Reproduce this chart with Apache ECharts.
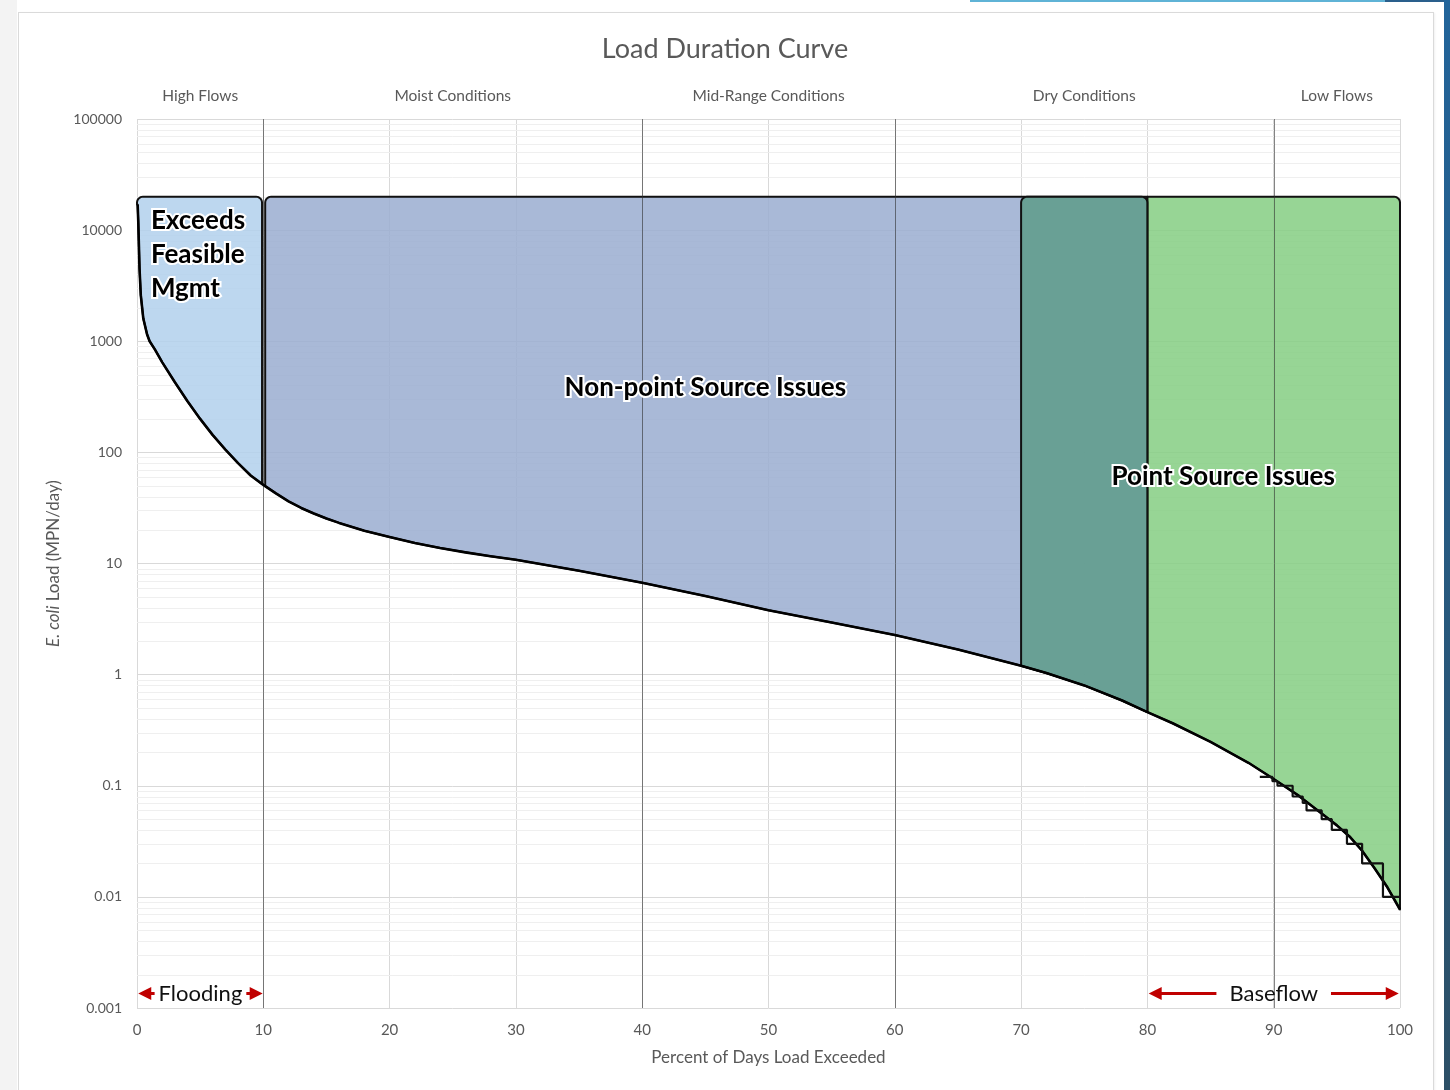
<!DOCTYPE html>
<html>
<head>
<meta charset="utf-8">
<title>Load Duration Curve</title>
<script src="https://cdn.jsdelivr.net/npm/echarts@6/dist/echarts.min.js"></script>
<style>
  html, body { margin: 0; padding: 0; background: #ffffff; }
  #page { position: relative; width: 1450px; height: 1090px; overflow: hidden; background: #ffffff; }
  #leftStrip { position: absolute; left: 0; top: 0; width: 17px; height: 1090px; background: #f3f3f3; }
  #panel { position: absolute; left: 18px; top: 12px; width: 1414px; height: 1090px; border: 1px solid #dadada; background: #ffffff; box-shadow: 1px 1px 2px rgba(0,0,0,0.06); }
  #topLine { position: absolute; left: 970px; top: 0; width: 420px; height: 2px; background: #5fb3d6; }
  #topLineDark { position: absolute; left: 1385px; top: 0; width: 65px; height: 2px; background: #2a5f8c; }
  #rightStrip { position: absolute; left: 1444px; top: 0; width: 6px; height: 1090px; background: linear-gradient(#22649a, #2c4f66); }
  #chart { position: absolute; left: 0; top: 0; width: 1450px; height: 1090px; }
</style>
</head>
<body>
<div id="page">
  <div id="leftStrip"></div>
  <div id="panel"></div>
  <div id="topLine"></div>
  <div id="topLineDark"></div>
  <div id="rightStrip"></div>
  <div id="chart"></div>
</div>
<script>
// Load duration curve: percent of days exceeded vs E. coli load (MPN/day)
const curveX = [0.05, 0.1, 0.2, 0.3, 0.5, 0.8, 1, 1.4, 2, 3, 4, 5, 6, 7, 8, 9, 10,
  11, 12, 13, 14, 15, 16, 18, 20, 22, 24, 26, 28, 30, 35, 40, 45, 50, 55, 60, 65, 70,
  72, 75, 78, 80, 82, 85, 88, 90, 92, 94, 95, 96, 97, 98, 99, 100];
const curveY = [17000, 12000, 4500, 2600, 1600, 1150, 1000, 850, 646, 427, 288, 200, 143, 106, 80, 62, 51,
  42.7, 36.3, 31.6, 28.2, 25.4, 23.2, 19.7, 17.3, 15.3, 13.8, 12.6, 11.6, 10.8, 8.6, 6.7, 5.1, 3.8, 2.95, 2.27, 1.68, 1.2,
  1.035, 0.8, 0.585, 0.46, 0.365, 0.248, 0.161, 0.115, 0.081, 0.054, 0.044, 0.035, 0.026, 0.018, 0.0122, 0.0077];

// Observed loads in the low-flow tail (reported to 0.01 MPN/day)
const tailX = [88.9, 89.9, 90.3, 91.5, 92.3, 92.6, 93.8, 94.6, 95.8, 97.0, 98.65, 100];
const tailY = [0.12, 0.11, 0.10, 0.08, 0.07, 0.06, 0.05, 0.04, 0.03, 0.02, 0.01, 0.01];

// Flow zones
const zoneNames = ['High Flows', 'Moist Conditions', 'Mid-Range Conditions', 'Dry Conditions', 'Low Flows'];
const zoneCenters = [5, 25, 50, 75, 95];
const zoneBounds = [10, 40, 60, 90];

// Management regions above the curve
const regionStart = [0, 10.15, 80, 70];
const regionEnd = [9.9, 80, 100, 80];
const regionRoundLeft = [true, true, false, true];
const regionRoundRight = [true, false, true, true];
const regionColors = ['rgba(178,208,236,0.86)', 'rgba(155,174,208,0.86)', 'rgba(134,206,131,0.86)', 'rgba(97,157,140,0.88)'];
const regionCeiling = 20000;

// Region captions
const captionText = ['Exceeds\nFeasible\nMgmt', 'Non-point Source Issues', 'Point Source Issues'];
const captionX = [1.1, 45, 86];
const captionY = [17500, 380, 61];
const captionAlign = ['left', 'center', 'center'];
const captionVAlign = ['top', 'middle', 'middle'];

// Range arrows along the bottom
const arrowText = ['Flooding', 'Baseflow'];
const arrowFrom = [0.1, 80.1];
const arrowTo = [9.95, 99.9];
const arrowLevel = 0.00135;

const FONT = 'Lato, "Open Sans", "Noto Sans", sans-serif';

const yMin = 0.001, yMax = 100000;
const minorValues = [];
for (let e = -3; e < 5; e++) {
  for (let m = 2; m <= 9; m++) minorValues.push(m * Math.pow(10, e));
}

function curveAt(x) {
  if (x <= curveX[0]) return curveY[0];
  for (let i = 1; i < curveX.length; i++) {
    if (x <= curveX[i]) {
      const t = (x - curveX[i - 1]) / (curveX[i] - curveX[i - 1]);
      const a = Math.log10(curveY[i - 1]), b = Math.log10(curveY[i]);
      return Math.pow(10, a + t * (b - a));
    }
  }
  return curveY[curveY.length - 1];
}

const measureCtx = document.createElement('canvas').getContext('2d');
function textWidth(str, font) { measureCtx.font = font; return measureCtx.measureText(str).width; }

const chart = echarts.init(document.getElementById('chart'), null, { renderer: 'canvas' });

const option = {
  animation: false,
  backgroundColor: 'transparent',
  title: {
    text: 'Load Duration Curve',
    left: 'center',
    top: 31,
    textStyle: { fontFamily: FONT, fontSize: 27, fontWeight: 'normal', color: '#595959' }
  },
  grid: { left: 137, right: 50, top: 119, bottom: 82, containLabel: false },
  xAxis: {
    type: 'value', min: 0, max: 100, interval: 10,
    axisLine: { show: false }, axisTick: { show: false },
    splitLine: { show: true, lineStyle: { color: '#d9d9d9', width: 1 } },
    axisLabel: { color: '#595959', fontSize: 15, fontFamily: FONT, margin: 15 },
    name: 'Percent of Days Load Exceeded', nameLocation: 'middle', nameGap: 41,
    nameTextStyle: { color: '#595959', fontSize: 17, fontFamily: FONT }
  },
  yAxis: {
    type: 'log', logBase: 10, min: yMin, max: yMax, splitNumber: 8,
    axisLine: { show: false }, axisTick: { show: false },
    splitLine: { show: true, lineStyle: { color: '#d9d9d9', width: 1 } },
    axisLabel: {
      color: '#595959', fontSize: 14, fontFamily: FONT, margin: 15,
      formatter: v => String(parseFloat(Number(v).toPrecision(6)))
    },
    name: '{i|E. coli} Load (MPN/day)', nameLocation: 'middle', nameRotate: 90, nameGap: 72,
    nameTextStyle: {
      color: '#595959', fontSize: 17, fontFamily: FONT,
      rich: { i: { fontStyle: 'italic', color: '#595959', fontSize: 17, fontFamily: FONT } }
    }
  },
  series: [
    {
      // minor log gridlines
      type: 'custom', silent: true, z: 0,
      data: minorValues.map(v => [0, v]),
      renderItem: (params, api) => {
        const v = minorValues[params.dataIndex];
        const p0 = api.coord([0, v]), p1 = api.coord([100, v]);
        return { type: 'line', shape: { x1: p0[0], y1: Math.round(p0[1]) + 0.5, x2: p1[0], y2: Math.round(p1[1]) + 0.5 },
          style: { stroke: '#efefef', lineWidth: 1 } };
      }
    },
    {
      // shaded management regions
      type: 'custom', silent: true, z: 2,
      data: regionStart.map((s, i) => [s, regionCeiling]),
      renderItem: (params, api) => {
        const i = params.dataIndex;
        const x0 = regionStart[i], x1 = regionEnd[i];
        const yt = api.coord([x0, regionCeiling])[1];
        const xl = api.coord([x0, regionCeiling])[0];
        const xr = api.coord([x1, regionCeiling])[0];
        const r = 6, pts = [];
        if (regionRoundLeft[i]) {
          for (let k = 0; k <= 6; k++) {
            const a = Math.PI + k / 6 * Math.PI / 2;
            pts.push([xl + r + r * Math.cos(a), yt + r + r * Math.sin(a)]);
          }
        } else pts.push([xl, yt]);
        if (regionRoundRight[i]) {
          for (let k = 0; k <= 6; k++) {
            const a = 1.5 * Math.PI + k / 6 * Math.PI / 2;
            pts.push([xr - r + r * Math.cos(a), yt + r + r * Math.sin(a)]);
          }
        } else pts.push([xr, yt]);
        pts.push(api.coord([x1, curveAt(x1)]));
        for (let k = curveX.length - 1; k >= 0; k--) {
          if (curveX[k] > x0 && curveX[k] < x1) pts.push(api.coord([curveX[k], curveY[k]]));
        }
        pts.push(api.coord([x0, curveAt(x0)]));
        return { type: 'polygon', shape: { points: pts },
          style: { fill: regionColors[i], stroke: '#111111', lineWidth: 2, lineJoin: 'round' } };
      }
    },
    {
      // flow-zone boundaries
      type: 'custom', silent: true, z: 3,
      data: zoneBounds.map(b => [b, yMax]),
      renderItem: (params, api) => {
        const b = zoneBounds[params.dataIndex];
        const p0 = api.coord([b, yMax]), p1 = api.coord([b, yMin]);
        const x = Math.round(p0[0]) + 0.5;
        return { type: 'line', shape: { x1: x, y1: p0[1], x2: x, y2: p1[1] },
          style: { stroke: 'rgba(50,50,50,0.6)', lineWidth: 1 } };
      }
    },
    {
      // zone names above the plot
      type: 'custom', silent: true, z: 3,
      data: zoneCenters.map(c => [c, yMax]),
      renderItem: (params, api) => {
        const i = params.dataIndex;
        const p = api.coord([zoneCenters[i], yMax]);
        return { type: 'text', x: p[0], y: p[1] - 23,
          style: { text: zoneNames[i], fill: '#595959', fontSize: 15.5, fontFamily: FONT, align: 'center', verticalAlign: 'middle' } };
      }
    },
    {
      name: 'Load duration curve',
      type: 'line', z: 4, symbol: 'none', smooth: false,
      data: curveX.map((x, i) => [x, curveY[i]]),
      lineStyle: { color: '#000000', width: 2.6, join: 'round' }
    },
    {
      name: 'Observed load',
      type: 'line', z: 4, symbol: 'none', step: 'end',
      data: tailX.map((x, i) => [x, tailY[i]]),
      lineStyle: { color: '#111111', width: 2.2 }
    },
    {
      // region captions
      type: 'custom', silent: true, z: 6,
      data: captionX.map((x, i) => [x, captionY[i]]),
      renderItem: (params, api) => {
        const i = params.dataIndex;
        const p = api.coord([captionX[i], captionY[i]]);
        return { type: 'text', x: p[0], y: p[1],
          style: { text: captionText[i], fill: '#000000', fontSize: 26, fontWeight: 'bold', fontFamily: FONT,
            lineHeight: 34, align: captionAlign[i], verticalAlign: captionVAlign[i],
            stroke: '#ffffff', lineWidth: 4 } };
      }
    },
    {
      // range arrows with labels
      type: 'custom', silent: true, z: 6,
      data: arrowFrom.map((x, i) => [x, arrowLevel]),
      renderItem: (params, api) => {
        const i = params.dataIndex;
        const a = api.coord([arrowFrom[i], arrowLevel]);
        const b = api.coord([arrowTo[i], arrowLevel]);
        const y = a[1];
        const cx = (a[0] + b[0]) / 2;
        const font = '22px ' + FONT;
        const w = textWidth(arrowText[i], font);
        const gap = i === 0 ? 4 : 13;
        const head = 13, half = 6.5, red = '#c00000';
        const children = [
          { type: 'polygon', shape: { points: [[a[0], y], [a[0] + head, y - half], [a[0] + head, y + half]] }, style: { fill: red } },
          { type: 'polygon', shape: { points: [[b[0], y], [b[0] - head, y - half], [b[0] - head, y + half]] }, style: { fill: red } },
          { type: 'line', shape: { x1: a[0] + head - 1, y1: y, x2: cx - w / 2 - gap, y2: y }, style: { stroke: red, lineWidth: 3 } },
          { type: 'line', shape: { x1: cx + w / 2 + gap, y1: y, x2: b[0] - head + 1, y2: y }, style: { stroke: red, lineWidth: 3 } },
          { type: 'text', x: cx, y: y,
            style: { text: arrowText[i], fill: '#111111', fontSize: 22, fontFamily: FONT, align: 'center', verticalAlign: 'middle' } }
        ];
        return { type: 'group', children };
      }
    }
  ]
};

chart.setOption(option);
</script>
</body>
</html>
